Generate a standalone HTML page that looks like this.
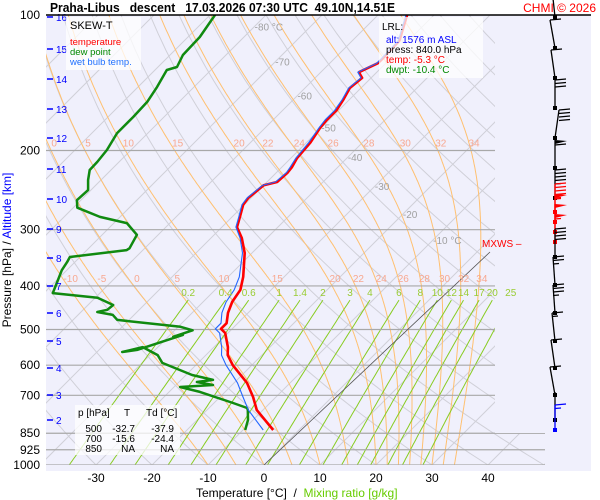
<!DOCTYPE html>
<html><head><meta charset="utf-8">
<style>
body{margin:0;background:#fff;width:600px;height:500px;overflow:hidden;font-family:"Liberation Sans",sans-serif}
svg{display:block}
</style></head>
<body>
<svg id="c" width="600" height="500" xmlns="http://www.w3.org/2000/svg" font-family="Liberation Sans, sans-serif">
<defs><clipPath id="pc"><polygon points="46,15 495,15 495,433 545,433 545,465 46,465"/></clipPath></defs>
<rect x="46" y="15" width="545" height="456" fill="#f0f0fc"/>
<g id="grid" clip-path="url(#pc)"></g>
<g id="series" clip-path="url(#pc)"></g>
<g id="labels"></g>
<g id="wind"></g>
<line x1="46" y1="15" x2="591" y2="15" stroke="#000" stroke-width="1.5"/>
<text x="50" y="12" font-size="12.5" font-weight="bold" textLength="345" lengthAdjust="spacingAndGlyphs" xml:space="preserve">Praha-Libus   descent   17.03.2026 07:30 UTC  49.10N,14.51E</text>
<text x="596" y="12" font-size="12" fill="#f00" text-anchor="end">CHMI © 2026</text>
<g>
<rect x="66" y="17" width="75" height="53" fill="#fff" fill-opacity="0.75"/>
<text x="70" y="29" font-size="11">SKEW-T</text>
<text x="70" y="45" font-size="9.5" fill="#f00">temperature</text>
<text x="70" y="55" font-size="9.5" fill="#080">dew point</text>
<text x="70" y="65" font-size="9.5" fill="#2070ff">wet bulb temp.</text>
</g>
<g>
<rect x="379" y="17" width="104" height="61" fill="#fff" fill-opacity="0.75"/>
<text x="382" y="30" font-size="10">LRL:</text>
<text x="386" y="43" font-size="10" fill="#00f">alt: 1576 m ASL</text>
<text x="386" y="53" font-size="10">press: 840.0 hPa</text>
<text x="386" y="63" font-size="10" fill="#f00">temp: -5.3 °C</text>
<text x="386" y="73" font-size="10" fill="#080">dwpt: -10.4 °C</text>
</g>
<g font-size="10">
<rect x="75" y="405" width="105" height="50" fill="#fff" fill-opacity="0.75"/>
<text x="78" y="416">p [hPa]</text><text x="124" y="416">T</text><text x="146" y="416">Td [°C]</text>
<text x="102" y="432" text-anchor="end">500</text><text x="135" y="432" text-anchor="end">-32.7</text><text x="174" y="432" text-anchor="end">-37.9</text>
<text x="102" y="442" text-anchor="end">700</text><text x="135" y="442" text-anchor="end">-15.6</text><text x="174" y="442" text-anchor="end">-24.4</text>
<text x="102" y="452" text-anchor="end">850</text><text x="135" y="452" text-anchor="end">NA</text><text x="174" y="452" text-anchor="end">NA</text>
</g>
<text x="11" y="250" font-size="12" transform="rotate(-90 11 250)" text-anchor="middle"><tspan>Pressure [hPa]  /  </tspan><tspan fill="#00f">Altitude [km]</tspan></text>
<text x="196" y="497" font-size="12" xml:space="preserve">Temperature [°C]  /  <tspan fill="#66cc00">Mixing ratio [g/kg]</tspan></text>
<text x="482" y="247" font-size="10" fill="#f00">MXWS –</text>
</svg>
<script>
const presLevels=[100,200,300,400,500,600,700,850,925,1000];
const tempTicks=[-30,-20,-10,0,10,20,30,40];
const altKm=[16,15,14,13,12,11,10,9,8,7,6,5,4,3,2];
const altY=[17,49,79,109,138,169,199,229,258,286,313,341,368,395,420];
const isoLabelT=[-80,-70,-60,-50,-40,-30,-20,-10];
const isoLabelP=[106,127,151,178,207,240,277,316];
const thetaW=[-10,-5,0,5,10,15,20,22,24,26,28,30,32,34];
const mixRatios=[0.2,0.4,0.6,1,1.4,2,3,4,6,8,10,12,14,17,20,25];
const tempP=[836,755,706,657,600,570,547,509,498,484,459,434,408,382,338,313,296,281,264,255,239,235,224,218,208,192,178,171,163,154,145.3,138,134,128,125,114,100];
const tempT=[-4.6,-11.1,-14.1,-17.7,-23.4,-26.1,-27.5,-30.5,-32.0,-32.0,-33.6,-34.8,-35.5,-37.3,-41.3,-44.5,-47.3,-48.6,-50.2,-50.5,-50.0,-48.2,-48.0,-48.2,-48.9,-49.3,-50.2,-50.4,-50.4,-51.1,-52,-51.6,-53.2,-51.4,-51.4,-51.6,-54.8];
const wetT=[-6.4,-12.6,-15.9,-19.4,-24.6,-27.2,-28.6,-31.5,-33.0,-33.0,-34.7,-35.9,-36.6,-38.0,-41.7,-44.8,-47.5,-48.8,-50.4,-50.7,-50.2,-48.5,-48.2,-48.5,-49.1,-49.6,-50.4,-50.7,-50.7,-51.3,-52.2,-51.8,-53.4,-51.6,-51.6,-51.8,-55.0];
const dewP=[836,794,755,747,728,688,671,664,654,647,631,593,570,547,561,555,514,519,502,493,476,464,457,452,441,425,415,394,369,354,345,333,330,308,290,281,268,258,245,232.6,221,212,199.5,183,168.5,156,144.5,132.5,130.5,122.7,111.9,100];
const dewT=[-9.6,-10.9,-12.7,-13.2,-16.6,-24.5,-28.9,-23.4,-26.8,-24.3,-28.9,-36.4,-38.6,-42.7,-45.5,-43.2,-37.7,-39.1,-36.8,-39.6,-52.1,-53.8,-57.1,-55.7,-55.5,-59.6,-68.4,-69.5,-70.9,-71.4,-71.8,-62.9,-62.7,-63.8,-67.7,-73.6,-79.3,-80.7,-80.5,-82.3,-83.8,-83.9,-84.3,-85.5,-85.5,-85.7,-86.6,-87.9,-86.6,-87.7,-87.9,-89.1];
const windY=[17,48,78,108,138,168,198,212,222,232,242,257,285,313,341,368,395,420,430];
const windSpd=[25,10,10,30,40,60,45,45,55,50,55,40,25,35,15,10,10,0,15];
const windLean=[-3,-5,-4,0,4,0,0,0,0,0,0,0,-2,-2,-3,-4,-5,0,0];

const NS='http://www.w3.org/2000/svg';
const yP=p=>15+450*Math.log10(p/100);
const xT=(T,p)=>264+5.6*T+(465-yP(p));
function mk(tag,attrs,parent){const e=document.createElementNS(NS,tag);for(const k in attrs)e.setAttribute(k,attrs[k]);parent.appendChild(e);return e;}
const grid=document.getElementById('grid'),ser=document.getElementById('series'),lab=document.getElementById('labels'),wind=document.getElementById('wind');
function path(pts){return pts.map((q,i)=>(i?'L':'M')+q[0].toFixed(1)+','+q[1].toFixed(1)).join('');}

for(let T=-160;T<=50;T+=10){
  const e=mk('line',{x1:xT(T,1000),y1:yP(1000),x2:xT(T,100),y2:yP(100),stroke:'#d0d0d8','stroke-width':1},grid);
  
  
}
for(let th=-40;th<=240;th+=10){
  const pts=[];for(let p=1000;p>=100;p-=10){const T=(th+273.15)*Math.pow(p/1000,0.286)-273.15;pts.push([xT(T,p),yP(p)]);}
  const e=mk('path',{d:path(pts),fill:'none',stroke:'#d0d0d8','stroke-width':1},grid);
  
  
}
function es(Tc){return 6.112*Math.exp(17.67*Tc/(Tc+243.5));}
const moistCurves=[];
thetaW.forEach(tw=>{
  let T=tw+273.15,p=1000;const pts=[[xT(tw,1000),yP(1000)]];const at={};
  while(p>100){const dp=-2;const e=es(T-273.15);const rs=0.622*e/(p-e);
    const dTdp=(287*T+2.5e6*rs)/(p*(1004+2.5e6*2.5e6*rs*0.622/(287*T*T)));
    T+=dTdp*dp;p+=dp;pts.push([xT(T-273.15,p),yP(p)]);
    if(Math.abs(p-400)<1)at[400]=T-273.15; if(Math.abs(p-200)<1)at[200]=T-273.15;}
  const e=mk('path',{d:path(pts),fill:'none',stroke:'#ffc070','stroke-width':1},grid);
  
  
  moistCurves.push([tw,at]);
});
mixRatios.forEach(w=>{
  const pts=[];let lx,ly;
  for(let p=1000;p>=430;p-=10){const e=w/1000*p/(0.622+w/1000);const a=Math.log(e/6.112);const Tc=243.5*a/(17.67-a);pts.push([xT(Tc,p),yP(p)]);lx=xT(Tc,p);ly=yP(p);}
  const e=mk('path',{d:path(pts),fill:'none',stroke:'#88cc22','stroke-width':1},grid);
  
  
  const t=mk('text',{x:lx,y:ly-4,'font-size':10,fill:'#99cc33','text-anchor':'middle'},lab);t.textContent=w;
  
  
});
presLevels.forEach(p=>{
  const x2=p>=850?545:495;
  if(p>100){const e=mk('line',{x1:46,y1:yP(p),x2:x2,y2:yP(p),stroke:'#a8a8a8','stroke-width':1.2},grid);
  
  }
  const t=mk('text',{x:40,y:yP(p)+4,'font-size':12,'text-anchor':'end'},lab);t.textContent=p;
  
  
});
moistCurves.forEach(([tw,at])=>{
  [400,200].forEach(p=>{ if(at[p]===undefined)return; if(p===200&&tw<0)return;
    const x=xT(at[p],p)+3; if(x<48||x>495)return;
    const t=mk('text',{x:x,y:yP(p)-4,'font-size':10,fill:'#f8a890','text-anchor':'middle'},lab);t.textContent=tw;
    
    });
});
isoLabelT.forEach((T,i)=>{const p=isoLabelP[i];
  const t=mk('text',{x:xT(T,p),y:yP(p)+4,'font-size':10,fill:'#a0a0a0'},lab);t.textContent=(T===-80||T===-10)?T+' °C':T;
  
  });
tempTicks.forEach(T=>{const t=mk('text',{x:xT(T,1000),y:482,'font-size':12,'text-anchor':'middle'},lab);t.textContent=T;
  
  });
altKm.forEach((k,i)=>{mk('line',{x1:47,y1:altY[i],x2:53,y2:altY[i],stroke:'#00f','stroke-width':1.5},lab);
  const t=mk('text',{x:56,y:altY[i]+4,'font-size':10,fill:'#00f'},lab);t.textContent=k;
  
  });
{const e=mk('line',{x1:264,y1:465,x2:490,y2:252,stroke:'#555','stroke-width':0.8},ser);
 
 }
function prof(P,T,col,w,name){const pts=P.map((p,i)=>[xT(T[i],p),yP(p)]);
  const e=mk('path',{d:path(pts),fill:'none',stroke:col,'stroke-width':w,'stroke-linejoin':'round'},ser);
  
  }
prof(dewP,dewT,'#108a10',2.5,'dew-point-line');
prof(tempP,tempT,'#ff0000',2.6,'temperature-line');
prof(tempP,wetT,'#2266ff',1.1,'wet-bulb-line');
windY.forEach((y,i)=>{
  const red=(y>=212&&y<=242), blue=(i===windY.length-1);
  const col=red?'#f00':(blue?'#00f':'#000');
  const top=blue?y-25:y-28, x0=555, x1=555+windLean[i];
  mk('line',{x1:x0,y1:y,x2:x1,y2:top,stroke:col,'stroke-width':1.3},wind);
  mk('rect',{x:x0-2,y:y-2,width:4,height:4,fill:col},wind);
  let s=windSpd[i],yy=top;
  while(s>=50){mk('polygon',{points:`${x1},${yy} ${x1+12},${yy+1} ${x1},${yy+4}`,fill:col},wind);yy+=5;s-=50;}
  while(s>=10){mk('line',{x1:x1,y1:yy,x2:x1+11,y2:yy-1,stroke:col,'stroke-width':1.2},wind);yy+=3.5;s-=10;}
  if(s>=5){mk('line',{x1:x1,y1:yy,x2:x1+6,y2:yy-0.5,stroke:col,'stroke-width':1.2},wind);}
  const g=wind.lastChild;
  
  
});
</script>
</body></html>
